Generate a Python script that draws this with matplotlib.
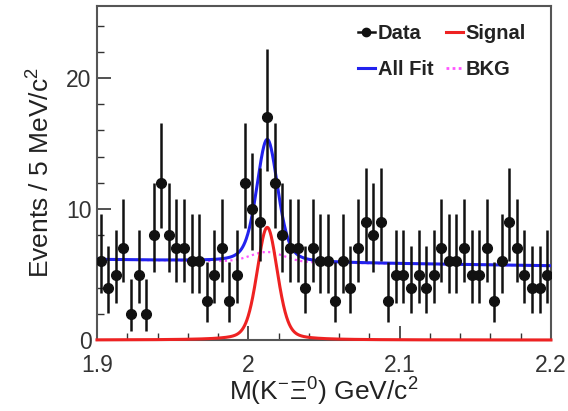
import numpy as np
import matplotlib
matplotlib.use("Agg")
import matplotlib.pyplot as plt
from matplotlib.lines import Line2D
from matplotlib.ticker import MultipleLocator

plt.rcParams['font.family'] = ['Liberation Sans', 'DejaVu Sans']
plt.rcParams['mathtext.fontset'] = 'custom'
plt.rcParams['mathtext.rm'] = 'Liberation Sans'
plt.rcParams['mathtext.it'] = 'Liberation Sans:italic'

# Histogram: M(K- Xi0), 5 MeV bins from 1.90 to 2.20 GeV/c^2
bin_lo = 1.90
bin_width = 0.005
counts = [6, 4, 5, 7, 2, 5, 2, 8, 12, 8,
          7, 7, 6, 6, 3, 5, 7, 3, 5, 12,
          10, 9, 17, 12, 8, 7, 7, 4, 7, 6,
          6, 3, 6, 4, 7, 9, 8, 9, 3, 5,
          5, 4, 5, 4, 5, 7, 6, 6, 7, 5,
          5, 7, 3, 6, 9, 7, 5, 4, 4, 5]

# Fit parameters
sig_mass = 2.0125      # peak position
sig_amp = 8.6          # peak height (events / bin)
sig_gamma = 0.0080     # Lorentzian half width
sig_sigma = 0.0068     # Gaussian resolution
sig_eta = 0.30         # Lorentzian fraction (pseudo-Voigt)
bkg_p0 = 6.15          # background level at 1.90
bkg_p1 = -1.6          # background slope per GeV
bkg_bump_amp = 0.75
bkg_bump_sigma = 0.011

n = len(counts)
centers = bin_lo + bin_width * (np.arange(n) + 0.5)
counts = np.array(counts, dtype=float)
err_up = 1.0 + np.sqrt(counts + 0.75)
err_lo = np.sqrt(np.clip(counts - 0.25, 0, None))

x = np.linspace(1.90, 2.20, 1500)
lor = 1.0 / (1.0 + ((x - sig_mass) / sig_gamma) ** 2)
gau = np.exp(-0.5 * ((x - sig_mass) / sig_sigma) ** 2)
signal = sig_amp * (sig_eta * lor + (1 - sig_eta) * gau)
bkg = bkg_p0 + bkg_p1 * (x - 1.90) + bkg_bump_amp * np.exp(-0.5 * ((x - sig_mass) / bkg_bump_sigma) ** 2)
total = signal + bkg

fig = plt.figure(figsize=(5.68, 4.11), dpi=100)
ax = fig.add_axes([0.1708, 0.1727, 0.7992, 0.8127])

ax.plot(x, bkg, color='#ff55ff', lw=1.6, ls=(0, (1, 1.5)), zorder=3)
ax.plot(x, signal, color='#ee2222', lw=2.2, zorder=4, clip_on=False)
ax.plot(x, total, color='#2222ee', lw=2.2, zorder=4)
ax.errorbar(centers, counts, yerr=[err_lo, err_up], fmt='o', color='#111111',
            ms=7, elinewidth=1.8, capsize=0, zorder=5)

ax.set_xlim(1.90, 2.20)
ax.set_ylim(0, 25.5)
ax.xaxis.set_minor_locator(MultipleLocator(0.02))
ax.yaxis.set_major_locator(MultipleLocator(10))
ax.yaxis.set_minor_locator(MultipleLocator(2))
ax.set_xticks([1.9, 2.0, 2.1, 2.2])
ax.set_xticklabels(['1.9', '2', '2.1', '2.2'])
ax.tick_params(axis='both', which='both', direction='in', top=False, right=False,
               labelsize=16.5, colors='#333333', labelcolor='#333333')
ax.tick_params(axis='both', which='major', length=10, width=1.2)
ax.tick_params(axis='both', which='minor', length=5, width=1.0)
ax.tick_params(axis='x', pad=10)
ax.tick_params(axis='y', pad=4)
for s in ax.spines.values():
    s.set_color('#555555')
    s.set_linewidth(1.5)

ax.set_xlabel(r"M(K$^{-}$Ξ$^{0}$) GeV/c$^{2}$", fontsize=19, color='#222222', labelpad=-1)
ax.set_ylabel(r"Events / 5 MeV/c$^{2}$", fontsize=19, color='#222222', labelpad=8)

handles = [
    Line2D([], [], color='#111111', marker='o', ms=6, lw=1.8),
    Line2D([], [], color='#2222ee', lw=2.2),
    Line2D([], [], color='#ee2222', lw=2.2),
    Line2D([], [], color='#ff55ff', lw=2.0, ls=(0, (1, 1.2))),
]
labels = ['Data', 'All Fit', 'Signal', 'BKG']
leg = ax.legend(handles, labels, ncol=2, loc='upper right', bbox_to_anchor=(0.985, 1.0),
                frameon=False, prop={'weight': 'bold', 'size': 14.5},
                handlelength=0.85, handletextpad=0.15, columnspacing=0.6, labelspacing=0.85)
for t in leg.get_texts():
    t.set_color('#222222')

fig.savefig('out.png', dpi=100)
